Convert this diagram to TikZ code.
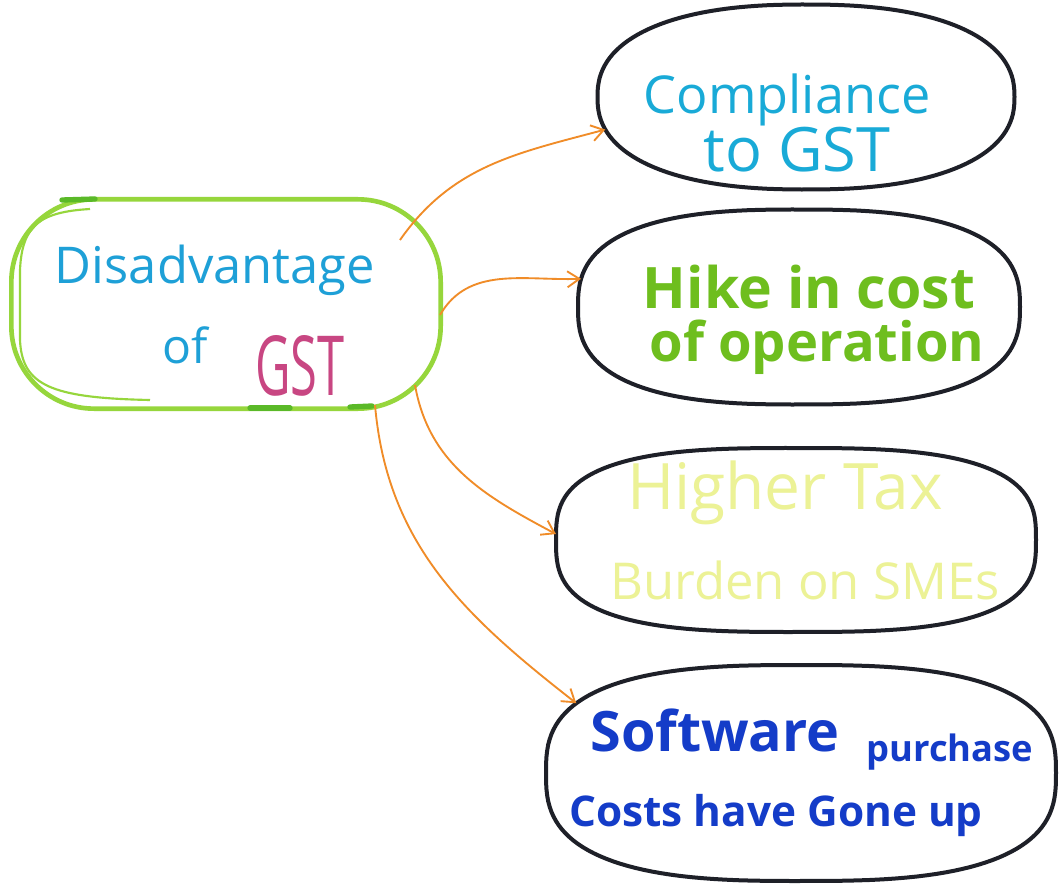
\documentclass[tikz,border=0pt]{standalone}
\usepackage{fontspec}
\setmainfont{Open Sans}
\usetikzlibrary{arrows.meta,shapes.geometric,calc}
\definecolor{lime}{RGB}{150,214,60}
\definecolor{limedark}{RGB}{90,185,40}
\definecolor{arrowor}{RGB}{240,140,40}
\definecolor{inkblue}{RGB}{30,160,215}
\definecolor{inkmag}{RGB}{200,70,130}
\definecolor{inkcyan}{RGB}{25,170,215}
\definecolor{inkgreen}{RGB}{110,190,30}
\definecolor{inkyellow}{RGB}{236,242,150}
\definecolor{inkdeep}{RGB}{20,60,200}
\definecolor{outline}{RGB}{30,32,40}
% fit a line of text to a given width (in pt)
\newcommand{\fitto}[2]{\resizebox{#1pt}{!}{#2}}
% squarish oval (superellipse) round a node: node, half width, half height, exponent
\newcommand{\blobround}[4]{%
  \draw[blobline, shift={(#1.center)}] plot[domain=0:360, samples=144]
    ({#2*sign(cos(\x))*(abs(cos(\x))+0.000001)^#4},
     {#3*sign(sin(\x))*(abs(sin(\x))+0.000001)^#4}) -- cycle;}
% point on that oval: name, node, half width, half height, exponent, parameter angle
\newcommand{\blobpoint}[6]{%
  \coordinate (#1) at ($(#2.center)+({#3*sign(cos(#6))*(abs(cos(#6))+0.000001)^#5},
     {#4*sign(sin(#6))*(abs(sin(#6))+0.000001)^#5})$);}
\tikzset{
  bubble/.style={ellipse, line width=0pt, inner sep=0pt, outer sep=0pt},
  blobline/.style={draw=outline, line width=3pt, line join=round},
  topic/.style={rounded corners=62pt, draw=lime, line width=3.5pt, inner sep=0pt},
  hand/.style={inner sep=0pt, anchor=center},
  link/.style={draw=arrowor, line width=1.4pt, -{Straight Barb[length=9pt,width=12pt,line width=1.4pt]}},
}
\begin{document}
\begin{tikzpicture}[x=0.75pt,y=-0.75pt]
\useasboundingbox[fill=white] (0,0) rectangle (1061,888);

% central topic with its second stroke on the left side
\node[topic, minimum width=322pt, minimum height=157pt] (c) at (226,304) {};
\draw[lime, line width=1.6pt] (90,209) .. controls (40,212) and (22,225) .. (20,270)
  -- (20,340) .. controls (22,385) and (50,398) .. (150,400);
\draw[limedark, line width=4pt, line cap=round] (62,200) -- (95,199);
\draw[limedark, line width=4pt, line cap=round] (250,408) -- (290,408);
\draw[limedark, line width=4pt, line cap=round] (350,407) -- (372,406);

% the four outcomes
\node[bubble, minimum width=313pt, minimum height=139pt] (e1) at (806,97) {};
\node[bubble, minimum width=331pt, minimum height=146pt] (e2) at (799,307) {};
\node[bubble, minimum width=360pt, minimum height=136pt] (e3) at (796,540) {};
\node[bubble, minimum width=382pt, minimum height=161pt] (e4) at (801,773) {};
\blobround{e1}{208.5}{92.5}{0.85}
\blobround{e2}{221}{97.5}{0.75}
\blobround{e3}{240}{92}{0.68}
\blobround{e4}{255}{108}{0.72}
\blobpoint{e1in}{e1}{208.5}{92.5}{0.85}{163}
\blobpoint{e2in}{e2}{221}{97.5}{0.75}{191}
\blobpoint{e3in}{e3}{240}{92}{0.68}{181}
\blobpoint{e4in}{e4}{255}{108}{0.72}{213}

% texts
\node[hand, text=inkblue] (t1) at (215,270) {\fitto{240}{Disadvantage}};
\node[hand, text=inkblue] (t2) at (185,345) {\fitto{34}{of}};
\node[hand, text=inkmag] (t3) at (300,366) {\resizebox{67pt}{45pt}{GST}};

\node[hand, text=inkcyan] (u1) at (787,100) {\fitto{215}{Compliance}};
\node[hand, text=inkcyan] (u2) at (797,150) {\fitto{140}{to GST}};

\node[hand, text=inkgreen] (v1) at (809,287) {\fitto{249}{\bfseries Hike in cost}};
\node[hand, text=inkgreen] (v2) at (817,347) {\fitto{251}{\bfseries of operation}};

\node[hand, text=inkyellow] (w1) at (785,493) {\fitto{237}{Higher Tax}};
\node[hand, text=inkyellow] (w2) at (805,580) {\fitto{292}{Burden on SMEs}};

\node[hand, text=inkdeep] (x1) at (715,730) {\fitto{187}{\bfseries Software}};
\node[hand, text=inkdeep] (x2) at (950,752) {\fitto{125}{\bfseries purchase}};
\node[hand, text=inkdeep] (x3) at (776,815) {\fitto{310}{\bfseries Costs have Gone up}};

% connectors leave the central topic at these points
\coordinate (s1) at (400,240);
\coordinate (s2) at (440,315);
\coordinate (s3) at (415,385);
\coordinate (s4) at (375,405);

\draw[link] (s1) to[out=55,in=195] (e1in);
\draw[link] (s2) to[out=60,in=182] (e2in);
\draw[link] (s3) to[out=-80,in=152] (e3in);
\draw[link] (s4) to[out=-85,in=142] (e4in);
\end{tikzpicture}
\end{document}
